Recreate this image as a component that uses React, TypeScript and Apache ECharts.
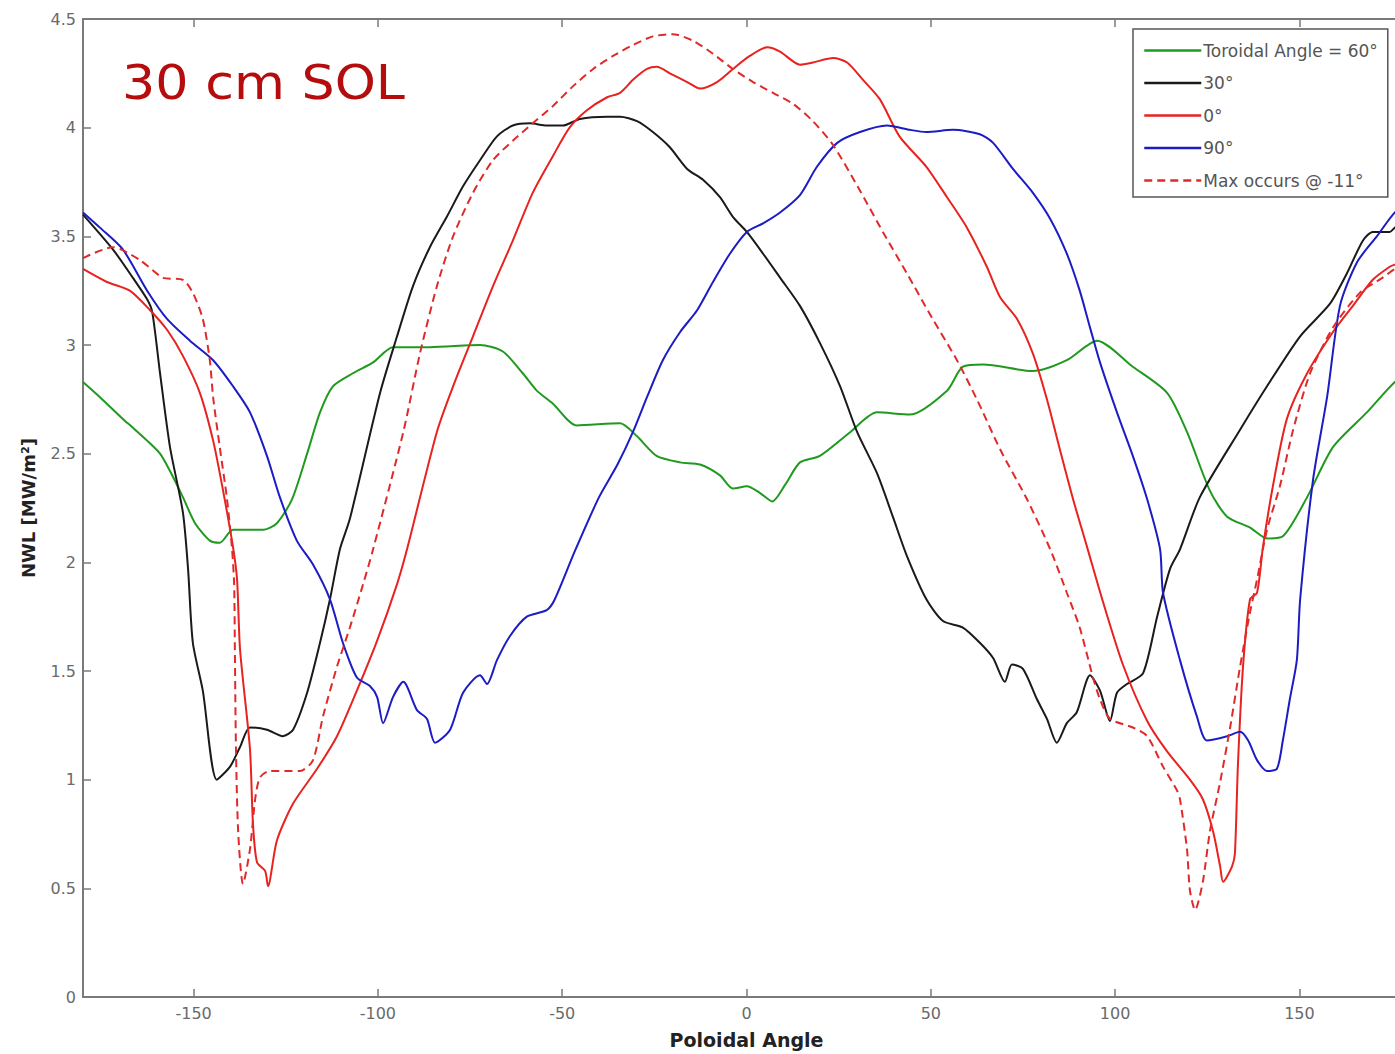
import React, { useEffect, useRef } from "react";
import * as echarts from "echarts";

const xTicks = [-150, -100, -50, 0, 50, 100, 150];
const seriesNames = ["Toroidal Angle = 60°", "30°", "0°", "90°", "Max occurs @ -11°"];

const green60: [number, number][] = [
  [-180, 2.83], [-175.4, 2.76], [-169.2, 2.66], [-166.5, 2.62], [-162.6, 2.56], [-159.1, 2.5], [-156.4, 2.42],
  [-152.9, 2.3], [-149.6, 2.18], [-145.6, 2.1], [-142.9, 2.09], [-139.3, 2.15], [-131, 2.15], [-127.4, 2.18],
  [-123.3, 2.29], [-119.2, 2.5], [-115.7, 2.69], [-112.2, 2.81], [-106.8, 2.87], [-101.3, 2.92], [-95.9, 2.99],
  [-85.9, 2.99], [-72.3, 3.0], [-66.1, 2.97], [-60.7, 2.87], [-56.9, 2.79], [-52.5, 2.73], [-46.1, 2.63],
  [-34.3, 2.64], [-29.7, 2.58], [-24.4, 2.49], [-18.0, 2.46], [-12.6, 2.45], [-7.2, 2.4], [-3.7, 2.34],
  [0.1, 2.35], [3.6, 2.32], [7.0, 2.28], [10.6, 2.36], [14.5, 2.46], [19.9, 2.49], [28.2, 2.6], [35.4, 2.69],
  [44.3, 2.68], [54.4, 2.79], [58.7, 2.9], [64.2, 2.91], [77.7, 2.88], [86.9, 2.93], [95.1, 3.02], [104.8, 2.9],
  [114.1, 2.78], [119.5, 2.6], [125.7, 2.33], [130.4, 2.21], [136.6, 2.16], [141.2, 2.11], [145.5, 2.12],
  [152.1, 2.3], [159.1, 2.53], [168.3, 2.69], [175.9, 2.83], [180, 2.87],
];

const black30: [number, number][] = [
  [-180, 3.6], [-171.9, 3.44], [-166.5, 3.31], [-162.6, 3.21], [-161.2, 3.15], [-159.1, 2.87], [-156.4, 2.53],
  [-152.9, 2.23], [-151.5, 1.97], [-150.2, 1.63], [-147.5, 1.41], [-143.7, 1.0], [-140.1, 1.06], [-137.4, 1.15],
  [-134.7, 1.24], [-130.1, 1.23], [-125.8, 1.2], [-123.0, 1.23], [-119.2, 1.4], [-115.7, 1.63], [-113.0, 1.83],
  [-110.3, 2.06], [-107.6, 2.2], [-99.4, 2.78], [-94.8, 3.04], [-90.5, 3.27], [-85.9, 3.45], [-81.3, 3.59],
  [-76.9, 3.73], [-72.3, 3.85], [-67.7, 3.96], [-63.4, 4.01], [-58.8, 4.02], [-54.2, 4.01], [-49.8, 4.01],
  [-45.2, 4.04], [-37.8, 4.05], [-34.3, 4.05], [-29.7, 4.03], [-25.4, 3.98], [-20.8, 3.91], [-16.1, 3.81],
  [-11.8, 3.76], [-7.2, 3.68], [-3.7, 3.59], [0.1, 3.52], [4.5, 3.42], [9.1, 3.31], [14.5, 3.18], [19.9, 3.01],
  [25.4, 2.81], [30.0, 2.6], [35.4, 2.41], [39.7, 2.21], [43.5, 2.03], [48.8, 1.83], [53.3, 1.73], [58.7, 1.7],
  [63.3, 1.63], [66.9, 1.56], [70.1, 1.45], [72.0, 1.53], [75.0, 1.51], [78.8, 1.37], [81.5, 1.28], [84.2, 1.17],
  [86.9, 1.26], [89.6, 1.31], [93.2, 1.48], [95.9, 1.41], [98.6, 1.27], [100.5, 1.4], [103.2, 1.44],
  [107.6, 1.49], [111.4, 1.75], [114.9, 1.97], [117.6, 2.06], [123.0, 2.3], [133.9, 2.61], [141.2, 2.81],
  [150.2, 3.04], [158.3, 3.19], [162.9, 3.33], [167.2, 3.48], [169.9, 3.52], [174.5, 3.52], [175.9, 3.54],
  [180, 3.58],
];

const red0: [number, number][] = [
  [-180, 3.35], [-173.5, 3.29], [-167.3, 3.25], [-161.8, 3.16], [-157.2, 3.07], [-152.9, 2.95], [-148.3, 2.78],
  [-144.7, 2.56], [-142.0, 2.33], [-139.3, 2.07], [-138.2, 1.92], [-137.4, 1.6], [-134.7, 1.14], [-133.9, 0.8],
  [-132.8, 0.62], [-130.6, 0.58], [-129.8, 0.51], [-127.4, 0.72], [-123.0, 0.89], [-116.5, 1.05], [-111.1, 1.2],
  [-105.7, 1.41], [-100.2, 1.64], [-94.8, 1.9], [-92.1, 2.06], [-84.0, 2.6], [-79.6, 2.81], [-74.2, 3.04],
  [-68.8, 3.27], [-63.4, 3.48], [-58.0, 3.7], [-52.5, 3.87], [-48.0, 4.0], [-43.3, 4.08], [-37.8, 4.14],
  [-34.3, 4.16], [-30.8, 4.22], [-27.0, 4.27], [-24.3, 4.28], [-20.8, 4.25], [-16.1, 4.21], [-12.6, 4.18],
  [-8.0, 4.21], [-3.7, 4.27], [0.9, 4.33], [5.6, 4.37], [9.1, 4.35], [14.5, 4.29], [18.0, 4.3], [23.5, 4.32],
  [27.3, 4.3], [31.6, 4.22], [36.2, 4.13], [41.5, 3.96], [48.8, 3.82], [54.4, 3.68], [59.8, 3.54], [65.2, 3.36],
  [68.8, 3.22], [73.4, 3.12], [77.7, 2.96], [81.5, 2.75], [85.0, 2.52], [88.6, 2.29], [92.4, 2.07], [96.5, 1.83],
  [102.1, 1.53], [108.7, 1.27], [114.1, 1.13], [120.3, 1.0], [123.8, 0.91], [126.6, 0.76], [128.5, 0.6],
  [129.3, 0.53], [131.7, 0.6], [132.5, 0.66], [133.3, 1.06], [134.7, 1.52], [136.6, 1.83], [138.5, 1.86],
  [140.1, 2.07], [142.8, 2.35], [146.6, 2.66], [152.1, 2.87], [159.1, 3.06], [164.5, 3.18], [169.9, 3.3],
  [174.5, 3.36], [175.9, 3.37], [180, 3.39],
];

const blue90: [number, number][] = [
  [-180, 3.61], [-175.4, 3.54], [-169.2, 3.44], [-162.6, 3.25], [-157.2, 3.12], [-151.0, 3.02], [-144.7, 2.93],
  [-139.3, 2.81], [-134.7, 2.69], [-130.1, 2.49], [-126.6, 2.3], [-122.0, 2.1], [-117.6, 1.99], [-113.0, 1.83],
  [-109.5, 1.63], [-105.7, 1.47], [-102.1, 1.43], [-100.2, 1.38], [-98.6, 1.26], [-95.9, 1.38], [-93.1, 1.45],
  [-89.4, 1.32], [-86.7, 1.28], [-84.5, 1.17], [-80.4, 1.23], [-76.9, 1.4], [-72.3, 1.48], [-70.4, 1.44],
  [-67.7, 1.55], [-64.2, 1.66], [-59.6, 1.75], [-54.2, 1.78], [-52.0, 1.83], [-46.6, 2.05], [-40.0, 2.3],
  [-35.0, 2.45], [-30.8, 2.6], [-27.0, 2.76], [-22.7, 2.93], [-18.0, 3.06], [-13.4, 3.16], [-9.1, 3.29],
  [-4.5, 3.42], [0.1, 3.52], [4.5, 3.56], [9.1, 3.61], [14.5, 3.69], [19.1, 3.82], [24.6, 3.93], [30.8, 3.98],
  [38.1, 4.01], [44.3, 3.99], [48.8, 3.98], [56.0, 3.99], [63.3, 3.97], [66.9, 3.93], [72.3, 3.81], [77.7, 3.7],
  [82.4, 3.58], [86.9, 3.42], [90.4, 3.25], [93.2, 3.08], [95.9, 2.92], [100.5, 2.69], [104.8, 2.49],
  [108.7, 2.29], [112.2, 2.06], [113.0, 1.86], [117.6, 1.55], [122.2, 1.29], [124.9, 1.18], [130.4, 1.2],
  [133.9, 1.22], [136.1, 1.18], [138.5, 1.09], [141.2, 1.04], [143.9, 1.05], [145.5, 1.18], [147.4, 1.37],
  [149.3, 1.55], [150.2, 1.83], [153.7, 2.38], [157.5, 2.76], [161.0, 3.18], [165.6, 3.38], [171.0, 3.5],
  [175.9, 3.61], [180, 3.66],
];

const redDashed: [number, number][] = [
  [-180, 3.4], [-171.9, 3.45], [-164.5, 3.39], [-158.3, 3.31], [-152.9, 3.3], [-150.2, 3.24], [-147.5, 3.12],
  [-145.6, 2.93], [-144.7, 2.76], [-142.9, 2.53], [-141.0, 2.3], [-139.6, 2.07], [-139.0, 1.9], [-138.8, 1.6],
  [-138.5, 1.14], [-137.9, 0.76], [-136.6, 0.52], [-134.7, 0.68], [-133.3, 0.91], [-132.0, 1.01], [-129.3, 1.04],
  [-121.1, 1.04], [-117.6, 1.09], [-114.9, 1.29], [-111.1, 1.52], [-107.6, 1.7], [-104.0, 1.9], [-101.3, 2.06],
  [-93.1, 2.6], [-88.6, 2.96], [-84.0, 3.27], [-79.6, 3.5], [-74.2, 3.7], [-68.8, 3.85], [-63.4, 3.94],
  [-58.0, 4.02], [-52.5, 4.1], [-47.1, 4.19], [-41.6, 4.27], [-36.2, 4.33], [-30.8, 4.38], [-25.4, 4.42],
  [-20.0, 4.43], [-14.5, 4.4], [-9.1, 4.34], [-3.7, 4.27], [1.8, 4.21], [7.2, 4.16], [12.6, 4.11], [18.0, 4.03],
  [23.5, 3.92], [30.8, 3.71], [37.0, 3.52], [43.5, 3.33], [50.5, 3.12], [57.1, 2.93], [62.5, 2.75], [68.8, 2.52],
  [76.1, 2.29], [82.4, 2.06], [86.9, 1.86], [90.4, 1.7], [94.0, 1.47], [95.9, 1.37], [98.6, 1.28], [104.8, 1.24],
  [108.7, 1.2], [113.0, 1.06], [116.8, 0.95], [117.6, 0.91], [119.5, 0.68], [120.3, 0.49], [121.7, 0.4],
  [123.8, 0.53], [125.7, 0.76], [128.5, 0.99], [131.2, 1.24], [133.9, 1.52], [136.6, 1.77], [138.5, 1.92],
  [141.2, 2.15], [144.7, 2.35], [148.3, 2.61], [152.9, 2.87], [159.1, 3.08], [166.4, 3.24], [172.6, 3.31],
  [175.9, 3.35], [180, 3.38],
];

const lineColors = ["#1f9a1f", "#1a1a1a", "#e8231f", "#1c1cc4", "#e02a2a"];

export default function App() {
  const ref = useRef<HTMLDivElement>(null);
  useEffect(() => {
    if (!ref.current) return;
    document.documentElement.style.overflow = "hidden";
    document.body.style.margin = "0";
    document.body.style.overflow = "hidden";
    const chart = echarts.init(ref.current, undefined, { renderer: "svg" });
    const font = "'DejaVu Sans', 'Liberation Sans', sans-serif";
    const axisLine = { show: true, onZero: false, lineStyle: { color: "#7a7a7a", width: 2 } };
    const tickStyle = { color: "#7a7a7a", width: 1.5 };
    const mk = (name: string, data: [number, number][], color: string, dashed = false) => ({
      name,
      type: "line",
      data,
      showSymbol: false,
      symbol: "none",
      smooth: 0.25,
      lineStyle: { color, width: 2, type: dashed ? [8, 5] : "solid" },
      itemStyle: { color },
      z: 3,
    });
    chart.setOption({
      animation: false,
      backgroundColor: "#ffffff",
      grid: { left: 83, right: 0, top: 19, bottom: 55, containLabel: false },
      legend: {
        orient: "vertical",
        left: 1133,
        top: 29,
        padding: [13, 10, 8, 10],
        itemWidth: 57,
        itemHeight: 14,
        itemGap: 15.5,
        backgroundColor: "#ffffff",
        borderColor: "#555555",
        borderWidth: 1.5,
        itemStyle: { opacity: 0, borderWidth: 0 },
        lineStyle: { width: 2.5 },
        textStyle: { fontFamily: font, fontSize: 17, color: "#555555", padding: [0, 0, 0, -3] },
        data: seriesNames,
      },
      xAxis: [
        {
          type: "value",
          min: -180,
          max: 180,
          position: "bottom",
          name: "Poloidal Angle",
          nameLocation: "middle",
          nameGap: 33,
          nameTextStyle: { fontFamily: font, fontSize: 19, fontWeight: "bold", color: "#222222" },
          axisLine,
          axisTick: { show: true, inside: true, length: 8, customValues: xTicks, lineStyle: tickStyle },
          axisLabel: { customValues: xTicks, fontFamily: font, fontSize: 16, color: "#6a6a6a", margin: 8 },
          splitLine: { show: false },
        },
        {
          type: "value",
          min: -180,
          max: 180,
          position: "top",
          axisLine,
          axisTick: { show: true, inside: true, length: 8, customValues: xTicks, lineStyle: tickStyle },
          axisLabel: { show: false },
          splitLine: { show: false },
        },
      ],
      yAxis: {
        type: "value",
        min: 0,
        max: 4.5,
        interval: 0.5,
        name: "NWL [MW/m²]",
        nameLocation: "middle",
        nameGap: 46,
        nameRotate: 90,
        nameTextStyle: { fontFamily: font, fontSize: 18, fontWeight: "bold", color: "#222222" },
        axisLine,
        axisTick: { show: true, inside: true, length: 8, lineStyle: tickStyle },
        axisLabel: { fontFamily: font, fontSize: 16, color: "#6a6a6a", margin: 7 },
        splitLine: { show: false },
      },
      graphic: [
        {
          type: "text",
          left: 122,
          top: 58,
          scaleX: 1.09,
          style: {
            text: "30 cm SOL",
            font: "48px 'DejaVu Sans', sans-serif",
            fill: "#b50d0d",
          },
          z: 10,
        },
      ],
      series: [
        mk(seriesNames[0], green60, lineColors[0]),
        mk(seriesNames[1], black30, lineColors[1]),
        mk(seriesNames[2], red0, lineColors[2]),
        mk(seriesNames[3], blue90, lineColors[3]),
        mk(seriesNames[4], redDashed, lineColors[4], true),
      ],
    });
    return () => chart.dispose();
  }, []);
  return (
    <div
      ref={ref}
      style={{ position: "fixed", left: 0, top: 0, width: 1410, height: 1054, background: "#fff" }}
    />
  );
}
